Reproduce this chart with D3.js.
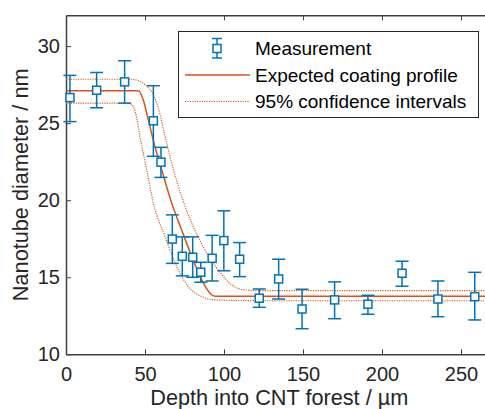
<!DOCTYPE html>
<html>
<head>
<meta charset="utf-8">
<script src="https://cdn.jsdelivr.net/npm/d3@7"></script>
<style>
  body { margin: 0; background: #fff; }
  svg { display: block; overflow: hidden; font-family: "Liberation Sans", Arial, Helvetica, sans-serif; }
  .tick text { fill: #262626; }
</style>
</head>
<body>
<div id="wrapper"></div>
<script>
// measurement points (depth in um, diameter in nm, error bar ends)
const depth = [2.5, 19.4, 37.1, 55.3, 60.1, 67.3, 73.6, 80.2, 85.3, 92.5, 99.9, 109.9, 122.3, 134.6, 149.4, 170.0, 191.1, 212.7, 235.4, 258.7];
const diameter = [26.66, 27.14, 27.68, 25.15, 22.47, 17.48, 16.36, 16.3, 15.33, 16.23, 17.38, 16.17, 13.64, 14.89, 12.94, 13.53, 13.25, 15.26, 13.59, 13.74];
const upperErr = [28.1, 28.29, 29.05, 27.43, 23.43, 19.05, 17.62, 17.62, 15.97, 17.72, 19.31, 17.25, 14.24, 16.17, 14.22, 14.7, 13.83, 16.04, 14.76, 15.32];
const lowerErr = [25.1, 26.0, 26.3, 22.85, 21.48, 15.9, 15.09, 15.0, 14.68, 14.76, 15.42, 15.04, 13.05, 13.59, 11.66, 12.31, 12.6, 14.42, 12.44, 12.23];

// expected coating profile
const profileDepth = [0, 45.8, 48.9, 52.1, 56.3, 60.6, 66.9, 73.2, 79.6, 85.9, 88.8, 91.3, 94.3, 270];
const profileValue = [27.1, 27.1, 26.51, 25.21, 23.48, 21.97, 19.81, 18.07, 16.34, 14.83, 14.3, 13.95, 13.77, 13.77];

// 95% confidence intervals
const upperDepth = [0, 41.6, 50, 55.3, 58.4, 62.7, 66.9, 73.2, 79.6, 88, 96.4, 104.9, 113.3, 122.8, 270];
const upperValue = [27.85, 27.85, 27.49, 26.84, 26.0, 24.13, 22.4, 20.23, 18.51, 16.77, 15.47, 14.5, 14.18, 14.13, 14.13];
const lowerDepth = [0, 39.4, 42.6, 44.8, 46.8, 51.1, 55.3, 62.7, 71.1, 77.4, 85.9, 94.3, 122.8, 270];
const lowerValue = [26.3, 26.3, 26.08, 25.3, 24.13, 21.97, 19.81, 17.64, 15.47, 14.39, 13.74, 13.53, 13.48, 13.48];

const xTicks = [0, 50, 100, 150, 200, 250];
const yTicks = [10, 15, 20, 25, 30];

const legendLabels = ["Measurement", "Expected coating profile", "95% confidence intervals"];

function drawChart() {

  const blue = "#0072BD";
  const orange = "#D95319";
  const axisColor = "#404040";

  // 1. dimensions
  let dimensions = {
    width: 485,
    height: 409,
    margin: { top: 15.3, left: 66, bottom: 54.7 },
    boundedWidth: 426.6,
  }
  dimensions.boundedHeight = dimensions.height - dimensions.margin.top - dimensions.margin.bottom

  // 2. canvas
  const wrapper = d3.select("#wrapper")
    .append("svg")
      .attr("width", dimensions.width)
      .attr("height", dimensions.height)

  const bounds = wrapper.append("g")
    .attr("transform", `translate(${dimensions.margin.left},${dimensions.margin.top})`)

  // 3. scales
  const xScale = d3.scaleLinear()
    .domain([0, 270])
    .range([0, dimensions.boundedWidth])

  const yScale = d3.scaleLinear()
    .domain([10, 32])
    .range([dimensions.boundedHeight, 0])

  // 4. axes (ticks inside, box on)
  const styleAxis = g => {
    g.select(".domain").attr("stroke", axisColor).attr("stroke-width", 1.5)
    g.selectAll(".tick line").attr("stroke", axisColor).attr("stroke-width", 1)
  }

  const xAxis = bounds.append("g")
    .attr("transform", `translate(0,${dimensions.boundedHeight})`)
    .call(d3.axisBottom(xScale).tickValues(xTicks).tickSizeInner(-5).tickSizeOuter(0).tickPadding(12.5))
    .call(styleAxis)
  xAxis.selectAll(".tick text").attr("font-size", 20)

  bounds.append("g")
    .call(d3.axisTop(xScale).tickValues(xTicks).tickSizeInner(-5).tickSizeOuter(0).tickFormat(""))
    .call(styleAxis)

  const yAxis = bounds.append("g")
    .call(d3.axisLeft(yScale).tickValues(yTicks).tickSizeInner(-5).tickSizeOuter(0).tickPadding(6))
    .call(styleAxis)
  yAxis.selectAll(".tick text").attr("font-size", 20)

  bounds.append("g")
    .attr("transform", `translate(${dimensions.boundedWidth},0)`)
    .call(d3.axisRight(yScale).tickValues(yTicks).tickSizeInner(-5).tickSizeOuter(0).tickFormat(""))
    .call(styleAxis)

  xAxis.append("text")
    .attr("x", dimensions.boundedWidth / 2)
    .attr("y", 50.5)
    .attr("text-anchor", "middle")
    .attr("fill", "#262626")
    .attr("font-size", 21.7)
    .text("Depth into CNT forest / µm")

  yAxis.append("text")
    .attr("transform", "rotate(-90)")
    .attr("x", -dimensions.boundedHeight / 2)
    .attr("y", -38)
    .attr("text-anchor", "middle")
    .attr("fill", "#262626")
    .attr("font-size", 21.7)
    .text("Nanotube diameter / nm")

  // 5. curves
  const lineGen = d3.line()
    .x(d => xScale(d[0]))
    .y(d => yScale(d[1]))
    .curve(d3.curveMonotoneX)

  const curveGroup = bounds.append("g")

  curveGroup.append("path")
    .datum(d3.zip(upperDepth, upperValue))
    .attr("d", lineGen)
    .attr("fill", "none")
    .attr("stroke", orange)
    .attr("stroke-width", 1.1)
    .attr("stroke-dasharray", "1.2,1.2")

  curveGroup.append("path")
    .datum(d3.zip(lowerDepth, lowerValue))
    .attr("d", lineGen)
    .attr("fill", "none")
    .attr("stroke", orange)
    .attr("stroke-width", 1.1)
    .attr("stroke-dasharray", "1.2,1.2")

  curveGroup.append("path")
    .datum(d3.zip(profileDepth, profileValue))
    .attr("d", lineGen)
    .attr("fill", "none")
    .attr("stroke", orange)
    .attr("stroke-width", 1.5)

  // 6. measurements with error bars
  const points = depth.map((d, i) => ({
    x: d, y: diameter[i], lo: lowerErr[i], hi: upperErr[i]
  }))
  const capHalf = 6.5
  const marker = 8

  const pts = bounds.append("g")
    .selectAll("g")
    .data(points)
    .join("g")
      .attr("stroke", blue)
      .attr("stroke-width", 1.5)
      .attr("fill", "none")

  pts.append("line")
    .attr("x1", d => xScale(d.x)).attr("x2", d => xScale(d.x))
    .attr("y1", d => yScale(d.lo)).attr("y2", d => yScale(d.hi))
  pts.append("line")
    .attr("x1", d => xScale(d.x) - capHalf).attr("x2", d => xScale(d.x) + capHalf)
    .attr("y1", d => yScale(d.hi)).attr("y2", d => yScale(d.hi))
  pts.append("line")
    .attr("x1", d => xScale(d.x) - capHalf).attr("x2", d => xScale(d.x) + capHalf)
    .attr("y1", d => yScale(d.lo)).attr("y2", d => yScale(d.lo))
  pts.append("rect")
    .attr("x", d => xScale(d.x) - marker / 2)
    .attr("y", d => yScale(d.y) - marker / 2)
    .attr("width", marker)
    .attr("height", marker)
    .attr("fill", "#fff")

  // 7. legend
  const legend = wrapper.append("g")
    .attr("transform", "translate(178.5,31.5)")

  legend.append("rect")
    .attr("width", 300)
    .attr("height", 86)
    .attr("fill", "#fff")
    .attr("stroke", "#262626")
    .attr("stroke-width", 1)

  const rowY = [17, 43.5, 70]
  const mk = legend.append("g")
    .attr("stroke", blue)
    .attr("stroke-width", 1.5)
    .attr("fill", "none")
  mk.append("line").attr("x1", 38.5).attr("x2", 38.5).attr("y1", rowY[0] - 10).attr("y2", rowY[0] + 9.5)
  mk.append("line").attr("x1", 33.5).attr("x2", 43.5).attr("y1", rowY[0] - 10).attr("y2", rowY[0] - 10)
  mk.append("line").attr("x1", 33.5).attr("x2", 43.5).attr("y1", rowY[0] + 9.5).attr("y2", rowY[0] + 9.5)
  mk.append("rect").attr("x", 34.5).attr("y", rowY[0] - 4).attr("width", marker).attr("height", marker).attr("fill", "#fff")

  legend.append("line")
    .attr("x1", 6.5).attr("x2", 71.5)
    .attr("y1", rowY[1]).attr("y2", rowY[1])
    .attr("stroke", orange).attr("stroke-width", 1.5)

  legend.append("line")
    .attr("x1", 6.5).attr("x2", 71.5)
    .attr("y1", rowY[2]).attr("y2", rowY[2])
    .attr("stroke", orange).attr("stroke-width", 1.1)
    .attr("stroke-dasharray", "1.2,1.2")

  legend.selectAll(".legend-label")
    .data(legendLabels)
    .join("text")
      .attr("class", "legend-label")
      .attr("x", 76.5)
      .attr("y", (d, i) => rowY[i])
      .attr("dy", "0.36em")
      .attr("font-size", 19)
      .attr("fill", "#000")
      .text(d => d)
}
drawChart()
</script>
</body>
</html>
